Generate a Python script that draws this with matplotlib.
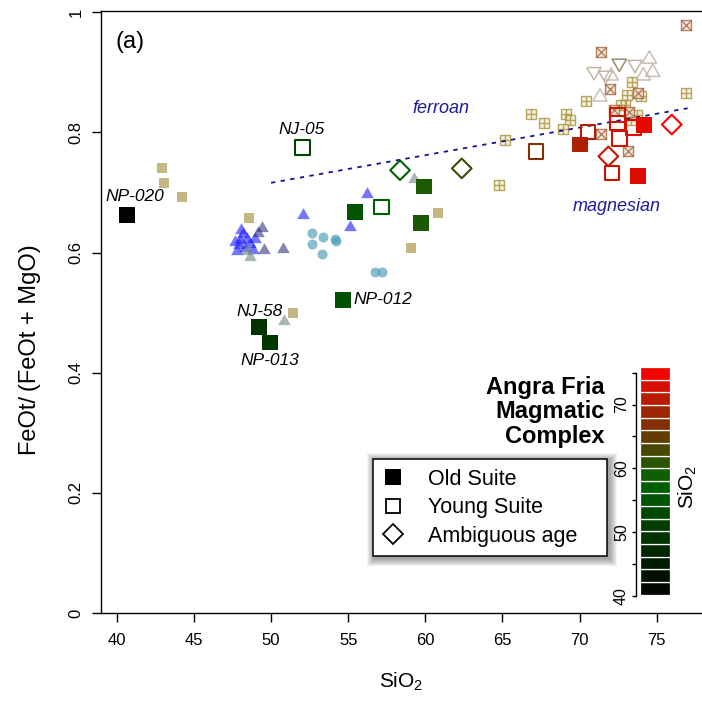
import numpy as np
import matplotlib
matplotlib.use("Agg")
import matplotlib.pyplot as plt
from matplotlib.colors import LinearSegmentedColormap, Normalize
from matplotlib.lines import Line2D
from matplotlib.patches import Rectangle
from matplotlib.path import Path

plt.rcParams['font.family'] = ['Liberation Sans', 'DejaVu Sans']
plt.rcParams['mathtext.fontset'] = 'custom'
plt.rcParams['mathtext.rm'] = 'Liberation Sans'
plt.rcParams['mathtext.it'] = 'Liberation Sans:italic'
plt.rcParams['mathtext.bf'] = 'Liberation Sans:bold'

# --- Angra Fria Magmatic Complex (coloured by SiO2) ---
old_si = [40.65, 49.22, 49.94, 54.65, 55.44, 59.92, 59.70, 70.02, 74.17, 73.77]
old_fe = [0.662, 0.476, 0.450, 0.521, 0.668, 0.710, 0.649, 0.780, 0.812, 0.727]

young_si = [52.03, 57.17, 67.17, 70.56, 72.44, 72.44, 72.57, 73.48, 72.08]
young_fe = [0.775, 0.676, 0.768, 0.801, 0.829, 0.816, 0.790, 0.808, 0.732]

amb_si = [58.36, 62.36, 71.86, 75.97]
amb_fe = [0.737, 0.740, 0.760, 0.813]

# --- comparison data sets ---
tan_si = [42.92, 43.07, 44.23, 48.59, 51.41, 60.80, 59.05]
tan_fe = [0.741, 0.716, 0.693, 0.658, 0.500, 0.666, 0.607]

blue_si = [56.20, 52.05, 55.12, 48.06, 47.67, 47.99, 48.42, 48.96, 48.64, 47.82,
           48.32, 48.85, 48.20, 47.90]
blue_fe = [0.697, 0.662, 0.643, 0.638, 0.618, 0.621, 0.622, 0.623, 0.615, 0.603,
           0.607, 0.604, 0.630, 0.612]

slate_si = [49.40, 49.16, 49.55, 50.80]
slate_fe = [0.641, 0.632, 0.605, 0.606]

grey_si = [48.42, 48.64, 50.84, 59.27]
grey_fe = [0.603, 0.593, 0.486, 0.722]

teal_si = [52.66, 53.39, 54.15, 54.21, 52.64, 53.33, 56.74, 57.17]
teal_fe = [0.632, 0.626, 0.622, 0.619, 0.615, 0.597, 0.568, 0.568]

plus_si = [65.17, 64.78, 66.85, 67.69, 69.12, 69.38, 68.90, 70.41, 73.38, 73.05,
           73.98, 76.90, 72.94, 73.70, 72.66, 73.30]
plus_fe = [0.788, 0.713, 0.830, 0.816, 0.831, 0.821, 0.805, 0.852, 0.883, 0.862,
           0.861, 0.866, 0.845, 0.829, 0.845, 0.820]

cross_si = [76.90, 71.39, 71.97, 73.80, 72.25, 73.22, 71.37, 73.12]
cross_fe = [0.978, 0.933, 0.873, 0.865, 0.837, 0.834, 0.798, 0.769]

down_si = [72.57, 73.59, 70.93, 71.69]
down_fe = [0.915, 0.913, 0.901, 0.895]

up_si = [74.52, 74.74, 74.13, 72.04, 71.32]
up_fe = [0.922, 0.900, 0.894, 0.894, 0.859]

# ferroan / magnesian boundary (Frost et al.)
bound_si = [50, 77]
bound_a, bound_b = 0.486, 0.0046

labels = [("NP-020", 41.2, 0.693, 'center'),
          ("NJ-05", 51.99, 0.804, 'center'),
          ("NJ-58", 49.24, 0.501, 'center'),
          ("NP-013", 49.94, 0.421, 'center'),
          ("NP-012", 55.33, 0.521, 'left')]

cmap = LinearSegmentedColormap.from_list('afmc', ['#000000', '#006400', '#ff0000'])
norm = Normalize(40, 75.9)

tri = Path([(0, 0.577), (-0.5, -0.289), (0.5, -0.289), (0, 0.577)],
           [Path.MOVETO, Path.LINETO, Path.LINETO, Path.CLOSEPOLY])
tri_down = Path([(0, -0.577), (-0.5, 0.289), (0.5, 0.289), (0, -0.577)],
                [Path.MOVETO, Path.LINETO, Path.LINETO, Path.CLOSEPOLY])

fig = plt.figure(figsize=(7.02, 7.02), dpi=100)
ax = fig.add_axes([101/702, 1-613/702, 601/702, 602/702])
ax.set_xlim(38.98, 77.93)
ax.set_ylim(0, 1.002)

# comparison data
ax.scatter(tan_si, tan_fe, marker='s', s=52, color='#c5b783', lw=0, zorder=2)
ax.scatter(blue_si, blue_fe, marker=tri, s=110, color='#2020ff', alpha=0.62, lw=0, zorder=2)
ax.scatter(slate_si, slate_fe, marker=tri, s=110, color='#23237a', alpha=0.55, lw=0, zorder=2)
ax.scatter(grey_si, grey_fe, marker=tri, s=110, color='#7d9090', alpha=0.65, lw=0, zorder=2)
ax.scatter(teal_si, teal_fe, marker='o', s=52, color='#4a9ab8', alpha=0.65, lw=0, zorder=2)
ax.scatter(plus_si, plus_fe, marker='s', s=60, facecolor='#f3ecd4', edgecolor='#a8923e',
           lw=1.0, alpha=0.8, zorder=2)
ax.scatter(plus_si, plus_fe, marker='+', s=60, color='#a8923e', lw=1.0, alpha=0.8, zorder=2)
ax.scatter(cross_si, cross_fe, marker='s', s=60, facecolor='#f1e2d6', edgecolor='#a5663d',
           lw=1.0, alpha=0.8, zorder=2)
ax.scatter(cross_si, cross_fe, marker='x', s=60, color='#a5663d', lw=1.0, alpha=0.8, zorder=2)
down_cols = ['#857d55', '#b5ad95', '#b5ad95', '#b5ad95']
ax.scatter(down_si, down_fe, marker=tri_down, s=140, facecolor='none', edgecolor=down_cols,
           lw=1.1, alpha=0.85, zorder=2)
ax.scatter(up_si, up_fe, marker=tri, s=140, facecolor='none', edgecolor='#c4b8ac',
           lw=1.1, alpha=0.9, zorder=2)

# boundary line
bx = np.array(bound_si, dtype=float)
ax.plot(bx, bound_a + bound_b * bx, color='#14148c', lw=1.3, dashes=(2.4, 3.0), zorder=3)

# Angra Fria samples
ax.scatter(old_si, old_fe, marker='s', s=128, color=cmap(norm(old_si)), lw=0, zorder=4)
ax.scatter(young_si, young_fe, marker='s', s=108, facecolor='none',
           edgecolor=cmap(norm(young_si)), lw=1.5, zorder=4)
ax.scatter(amb_si, amb_fe, marker='D', s=100, facecolor='none',
           edgecolor=cmap(norm(amb_si)), lw=1.5, zorder=4)

for name, lx, ly, ha in labels:
    ax.text(lx, ly, name, ha=ha, va='center', style='italic', fontsize=12.5)

ax.text(61.02, 0.840, 'ferroan', ha='center', va='center', style='italic',
        fontsize=13, color='#1c1c9c')
ax.text(72.40, 0.676, 'magnesian', ha='center', va='center', style='italic',
        fontsize=13, color='#1c1c9c')

# axes styling
for side in ['left', 'top', 'bottom']:
    ax.spines[side].set_linewidth(1.0)
ax.spines['right'].set_visible(False)
ax.set_xticks(np.arange(40, 76, 5))
ax.set_yticks([0, 0.2, 0.4, 0.6, 0.8, 1.0])
ax.set_yticklabels(['0', '0.2', '0.4', '0.6', '0.8', '1'])
ax.tick_params(axis='both', direction='out', length=6.5, width=1.0, labelsize=12)
ax.tick_params(axis='x', pad=8)
ax.tick_params(axis='y', pad=6, labelrotation=90)
for t in ax.get_yticklabels():
    t.set_va('center')

fig.text(401.5/702, 1-682/702, 'SiO$_2$', ha='center', va='center', fontsize=15)
fig.text(30/702, 1-350/702, 'FeOt/\u2009(FeOt + MgO)', rotation=90,
         ha='center', va='center', fontsize=17)
fig.text(130/702, 1-42/702, '(a)', ha='center', va='center', fontsize=17)
fig.text(605/702, 1-412/702, 'Angra Fria\nMagmatic\nComplex', ha='right', va='center',
         multialignment='right', fontweight='bold', fontsize=17, linespacing=1.1)

# legend
handles = [Line2D([], [], ls='none', marker='s', ms=11.3, mfc='black', mec='black', mew=0),
           Line2D([], [], ls='none', marker='s', ms=10.4, mfc='none', mec='black', mew=1.3),
           Line2D([], [], ls='none', marker='D', ms=10.2, mfc='none', mec='black', mew=1.3)]
leg = ax.legend(handles, ['Old Suite', 'Young Suite', 'Ambiguous age'],
                loc='upper left', bbox_to_anchor=(0.4526, 0.256, 0.389, 0.0), mode='expand',
                borderaxespad=0, fancybox=False, framealpha=1, edgecolor='black',
                fontsize=15.5, handlelength=1.0, handletextpad=1.1, labelspacing=0.35,
                borderpad=0.45)
leg.get_frame().set_linewidth(1.1)
leg.set_zorder(6)

# soft shadow round the legend box
fig.canvas.draw()
bb = leg.get_window_extent().transformed(ax.transAxes.inverted())
px = 1 / 601
for k in range(1, 9):
    d = k * px
    ax.add_patch(Rectangle((bb.x0 - d + 2*px, bb.y0 - d - 2*px), bb.width + 2*d, bb.height + 2*d,
                           transform=ax.transAxes, facecolor='black', edgecolor='none',
                           alpha=0.05, zorder=5, clip_on=False))

# colour bar
cax = fig.add_axes([640/702, 1-596/702, 30/702, 229.7/702])
cax.set_ylim(40, 76)
cax.set_xlim(0, 1)
edges = np.linspace(40.2, 75.9, 19)
mids = (edges[:-1] + edges[1:]) / 2
cax.bar(0.5, np.diff(edges), bottom=edges[:-1], width=1, color=cmap(norm(mids)),
        edgecolor='white', lw=0.9)
for side in ['top', 'right', 'bottom']:
    cax.spines[side].set_visible(False)
cax.spines['left'].set_position(('outward', 3))
cax.spines['left'].set_bounds(40, 75)
cax.spines['left'].set_linewidth(1.0)
cax.set_xticks([])
cax.set_yticks(np.arange(40, 76, 5))
cax.set_yticklabels(['40', '', '50', '', '60', '', '70', ''])
cax.tick_params(axis='y', direction='out', length=3, width=1.0, labelsize=11.5, pad=2,
                labelrotation=90)
for t in cax.get_yticklabels():
    t.set_va('center')
fig.text(688/702, 1-487/702, 'SiO$_2$', rotation=90, ha='center', va='center', fontsize=15)

fig.savefig('out.png', dpi=100)
